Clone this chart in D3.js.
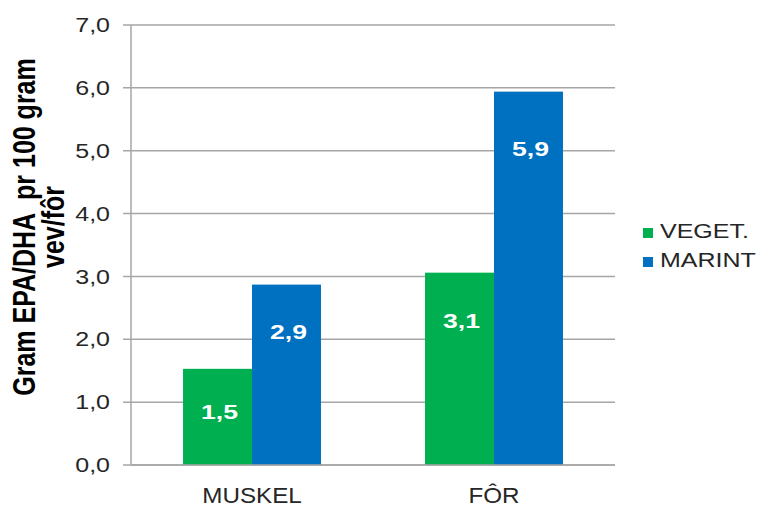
<!DOCTYPE html>
<html>
<head>
<meta charset="utf-8">
<script src="https://cdn.jsdelivr.net/npm/d3@7.9.0/dist/d3.min.js"></script>
<style>
  body { margin: 0; background: #fff; }
  svg { display: block; font-family: "Liberation Sans", Arial, sans-serif; }
</style>
</head>
<body>
<svg id="chart" width="758" height="509"></svg>
<script>
// data
const categories = ['MUSKEL', 'FÔR'];
const seriesNames = ['VEGET.', 'MARINT'];
const vegetValues = [1.53, 3.06];
const marintValues = [2.87, 5.94];
const yTicks = [0, 1, 2, 3, 4, 5, 6, 7];
const seriesColors = ['#00B050', '#0070C0'];

const rows = categories.map((c, i) => ({
  category: c,
  values: [
    { series: seriesNames[0], value: vegetValues[i] },
    { series: seriesNames[1], value: marintValues[i] },
  ],
}));

const svg = d3.select('#chart');
const plotLeft = 131, plotRight = 615, plotTop = 25, plotBottom = 465;
const stretch = 1.25; // reference text is drawn a bit wide
const fmt = (v) => v.toFixed(1).replace('.', ',');

const x0 = d3.scaleBand().domain(categories).range([plotLeft, plotRight])
  .paddingInner(0.43).paddingOuter(0.215);
const x1 = d3.scaleBand().domain(seriesNames).range([0, x0.bandwidth()]);
const y = d3.scaleLinear().domain([0, 7]).range([plotBottom, plotTop]);
const color = d3.scaleOrdinal().domain(seriesNames).range(seriesColors);

// put text at x,y and widen it around the anchor
function wideText(sel, x, y, sx) {
  return sel.attr('transform', `translate(${x},${y}) scale(${sx},1)`);
}

// gridlines
svg.append('g')
  .selectAll('line')
  .data(yTicks)
  .join('line')
  .attr('x1', plotLeft - 8)
  .attr('x2', plotRight)
  .attr('y1', (d) => y(d))
  .attr('y2', (d) => y(d))
  .attr('stroke', '#a6a6a6')
  .attr('stroke-width', 1.5);

// y axis line
svg.append('line')
  .attr('x1', plotLeft).attr('x2', plotLeft)
  .attr('y1', plotTop).attr('y2', plotBottom)
  .attr('stroke', '#a6a6a6')
  .attr('stroke-width', 1.5);

// y tick labels
svg.append('g')
  .selectAll('text')
  .data(yTicks)
  .join('text')
  .each(function (d) { wideText(d3.select(this), 110, y(d), stretch); })
  .attr('text-anchor', 'end')
  .attr('dy', '0.36em')
  .attr('font-size', 20)
  .attr('fill', '#262626')
  .text((d) => fmt(d));

// bars
const groups = svg.append('g')
  .selectAll('g')
  .data(rows)
  .join('g')
  .attr('transform', (d) => `translate(${x0(d.category)},0)`);

groups.selectAll('rect')
  .data((d) => d.values)
  .join('rect')
  .attr('x', (d) => x1(d.series))
  .attr('y', (d) => y(d.value))
  .attr('width', x1.bandwidth())
  .attr('height', (d) => y(0) - y(d.value))
  .attr('fill', (d) => color(d.series));

// value labels sit a little below the bar top
groups.selectAll('text')
  .data((d) => d.values)
  .join('text')
  .each(function (d) {
    const ly = y(d.value) + 38 + 3.2 * d.value;
    wideText(d3.select(this), x1(d.series) + x1.bandwidth() / 2 + 2, ly, 1.33);
  })
  .attr('text-anchor', 'middle')
  .attr('dy', '0.36em')
  .attr('font-size', 20)
  .attr('font-weight', 'bold')
  .attr('fill', '#fff')
  .text((d) => fmt(d.value));

// x axis line
svg.append('line')
  .attr('x1', plotLeft).attr('x2', plotRight)
  .attr('y1', plotBottom).attr('y2', plotBottom)
  .attr('stroke', '#a6a6a6')
  .attr('stroke-width', 1.5);

// category labels
svg.append('g')
  .selectAll('text')
  .data(categories)
  .join('text')
  .each(function (d) {
    wideText(d3.select(this), x0(d) + x0.bandwidth() / 2, 503, 1.1);
  })
  .attr('text-anchor', 'middle')
  .attr('font-size', 22)
  .attr('fill', '#262626')
  .text((d) => d);

// y axis title (two lines)
const titleLines = ['Gram EPA/DHA  pr 100 gram', 'vev/fôr'];
svg.append('g')
  .selectAll('text')
  .data(titleLines)
  .join('text')
  .attr('transform', (d, i) => `translate(${i === 0 ? 35 : 64},227) scale(${stretch},1) rotate(-90)`)
  .attr('text-anchor', 'middle')
  .attr('font-size', 25)
  .attr('font-weight', 'bold')
  .attr('fill', '#000')
  .attr('xml:space', 'preserve')
  .style('white-space', 'pre')
  .text((d) => d);

// legend
const legend = svg.append('g')
  .selectAll('g')
  .data(seriesNames)
  .join('g')
  .attr('transform', (d, i) => `translate(643,${228 + i * 29})`);

legend.append('rect')
  .attr('width', 10)
  .attr('height', 10)
  .attr('fill', (d) => color(d));

legend.append('text')
  .each(function () { wideText(d3.select(this), 17, 10, stretch); })
  .attr('font-size', 20)
  .attr('fill', '#262626')
  .text((d) => d);
</script>
</body>
</html>
